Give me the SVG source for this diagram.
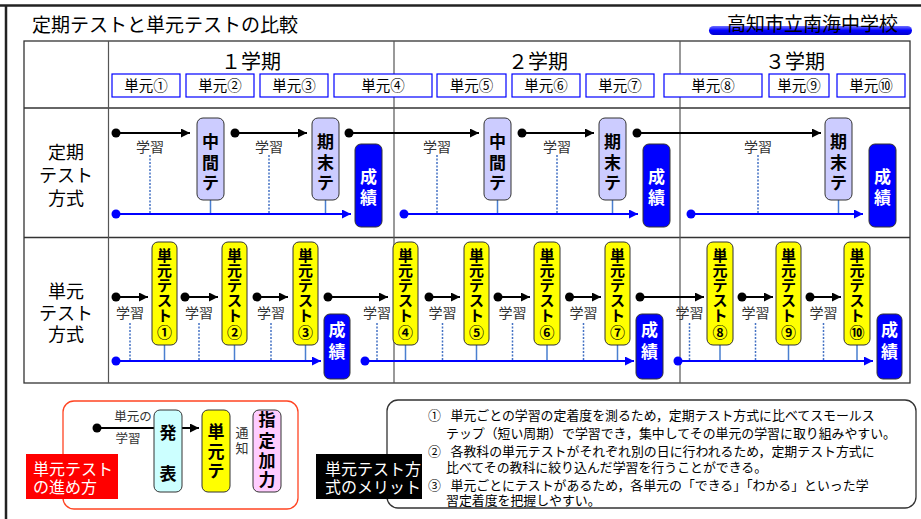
<svg xmlns="http://www.w3.org/2000/svg" width="921" height="519" viewBox="0 0 921 519">
<defs>
<marker id="ab" viewBox="0 0 10 10" refX="10" refY="5" markerWidth="5.5" markerHeight="4.5" orient="auto" markerUnits="strokeWidth"><path d="M0,0 L10,5 L0,10 z" fill="#000"/></marker>
<marker id="au" viewBox="0 0 10 10" refX="10" refY="5" markerWidth="5.5" markerHeight="4.5" orient="auto" markerUnits="strokeWidth"><path d="M0,0 L10,5 L0,10 z" fill="#0000ff"/></marker>
<linearGradient id="pill" x1="0" y1="0" x2="0" y2="1"><stop offset="0" stop-color="#7070ff"/><stop offset="0.5" stop-color="#0000ff"/><stop offset="1" stop-color="#0000cc"/></linearGradient>
<style>
text{font-family:"Noto Sans CJK JP","Noto Sans CJK SC",sans-serif}
.ttl{font-size:19px;fill:#000}
.hd{font-size:20px;text-anchor:middle;fill:#000}
.rl{font-size:18px;text-anchor:middle;fill:#000}
.ub{fill:#fff;stroke:#0000ff;stroke-width:1.2}
.ut{font-size:14.5px;text-anchor:middle;fill:#000}
.lav{fill:#ccccff;stroke:#333;stroke-width:1}
.yel{fill:#ffff00;stroke:#333;stroke-width:1}
.blu{fill:#0000ff;stroke:#333;stroke-width:1}
.vt{font-size:17px;font-weight:bold;text-anchor:middle;fill:#000}
.vy{font-size:15px;font-weight:bold;text-anchor:middle;fill:#000}
.wt{font-size:17px;font-weight:bold;text-anchor:middle;fill:#fff}
.lg{font-size:14px;text-anchor:middle;fill:#333}
.sm{font-size:12.5px;text-anchor:middle;fill:#333}
.wl{font-size:16px;fill:#fff}
.ba{stroke:#000;stroke-width:2;fill:none;marker-end:url(#ab)}
.bu{stroke:#0000ff;stroke-width:2;fill:none;marker-end:url(#au)}
.dt{stroke:#4472c4;stroke-width:1.5;stroke-dasharray:2 1.5;fill:none}
.cn{stroke:#4a7fd0;stroke-width:1.5;fill:none}
.tl{stroke:#333;stroke-width:1.3;fill:none}
.tv{stroke:#555;stroke-width:1.2;fill:none}
.mt{font-size:12.9px;fill:#000}
</style>
</defs>

<!-- outer frame -->
<g id="frame">
<line x1="0" y1="5.5" x2="921" y2="5.5" stroke="#222" stroke-width="2.5"/>
<line x1="6" y1="5" x2="6" y2="519" stroke="#222" stroke-width="2.5"/>
</g>

<g id="title"><text class="ttl" x="32" y="31.5">定期テストと単元テストの比較</text></g>
<g id="school">
<rect x="709" y="26" width="203" height="9" rx="4.5" fill="url(#pill)"/>
<text class="ttl" x="727" y="31">高知市立南海中学校</text>
</g>

<!-- table -->
<g id="table">
<rect x="24" y="41" width="886" height="342" fill="none" stroke="#333" stroke-width="1.3"/>
<line class="tl" x1="24" y1="108" x2="910" y2="108"/>
<line class="tl" x1="24" y1="237.5" x2="910" y2="237.5"/>
<line class="tv" x1="108.5" y1="41" x2="108.5" y2="383"/>
<line class="tv" x1="394" y1="41" x2="394" y2="383"/>
<line class="tv" x1="680" y1="41" x2="680" y2="383"/>
<text class="hd" x="251" y="69">１学期</text>
<text class="hd" x="538" y="69">２学期</text>
<text class="hd" x="795" y="69">３学期</text>
<text class="rl" x="66" y="158.5">定期</text>
<text class="rl" x="66" y="181.5">テスト</text>
<text class="rl" x="66" y="204.5">方式</text>
<text class="rl" x="66" y="298">単元</text>
<text class="rl" x="66" y="319.5">テスト</text>
<text class="rl" x="66" y="341">方式</text>
</g>

<g id="units">
<rect class="ub" x="112" y="74" width="68" height="23"/><text class="ut" x="146" y="90.5">単元①</text>
<rect class="ub" x="186" y="74" width="68" height="23"/><text class="ut" x="220" y="90.5">単元②</text>
<rect class="ub" x="260" y="74" width="68" height="23"/><text class="ut" x="294" y="90.5">単元③</text>
<rect class="ub" x="334" y="74" width="98" height="23"/><text class="ut" x="383" y="90.5">単元④</text>
<rect class="ub" x="437" y="74" width="69" height="23"/><text class="ut" x="471.5" y="90.5">単元⑤</text>
<rect class="ub" x="512" y="74" width="68" height="23"/><text class="ut" x="546" y="90.5">単元⑥</text>
<rect class="ub" x="586" y="74" width="68" height="23"/><text class="ut" x="620" y="90.5">単元⑦</text>
<rect class="ub" x="664" y="74" width="98" height="23"/><text class="ut" x="713" y="90.5">単元⑧</text>
<rect class="ub" x="769" y="74" width="60" height="23"/><text class="ut" x="799" y="90.5">単元⑨</text>
<rect class="ub" x="837" y="74" width="68" height="23"/><text class="ut" x="871" y="90.5">単元⑩</text>
</g>

<!-- connectors -->
<g id="connectors">
<path class="dt" d="M150,155V213 M269,155V213 M437,155V213 M557,155V213 M758,155V213"/>
<path class="cn" d="M210.5,200V214 M325.5,200V214 M497.5,200V214 M612.5,200V214 M838.5,200V214"/>
<line class="ba" x1="116" y1="133" x2="190" y2="133"/>
<line class="ba" x1="235" y1="133" x2="307" y2="133"/>
<line class="ba" x1="349" y1="133" x2="479" y2="133"/>
<line class="ba" x1="522" y1="133" x2="594" y2="133"/>
<line class="ba" x1="637" y1="133" x2="821" y2="133"/>
<g fill="#000"><circle cx="116" cy="133" r="4.5"/><circle cx="235" cy="133" r="4.5"/><circle cx="349" cy="133" r="4.5"/><circle cx="522" cy="133" r="4.5"/><circle cx="637" cy="133" r="4.5"/></g>
<line class="bu" x1="116" y1="214" x2="351" y2="214"/>
<line class="bu" x1="404" y1="214" x2="638" y2="214"/>
<line class="bu" x1="691" y1="214" x2="863" y2="214"/>
<g fill="#0000ff"><circle cx="116" cy="214" r="4.5"/><circle cx="404" cy="214" r="4.5"/><circle cx="691" cy="214" r="4.5"/></g>
<text class="lg" x="150" y="152">学習</text>
<text class="lg" x="269" y="152">学習</text>
<text class="lg" x="437" y="152">学習</text>
<text class="lg" x="557" y="152">学習</text>
<text class="lg" x="758" y="152">学習</text>

<path class="dt" d="M130,323V360 M199,323V360 M271,323V360 M377,323V360 M442.5,323V360 M512.5,323V360 M583.5,323V360 M689.5,323V360 M755.5,323V360 M823.5,323V360"/>
<path class="cn" d="M164.5,345V361 M234.5,345V361 M305.5,345V361 M405.5,345V361 M476.5,345V361 M547,345V361 M617.5,345V361 M720,345V361 M788.5,345V361 M857,345V361"/>
<line class="ba" x1="116" y1="297" x2="148" y2="297"/>
<line class="ba" x1="185" y1="297" x2="218" y2="297"/>
<line class="ba" x1="257" y1="297" x2="288" y2="297"/>
<line class="ba" x1="328" y1="297" x2="388" y2="297"/>
<line class="ba" x1="429" y1="297" x2="460" y2="297"/>
<line class="ba" x1="498" y1="297" x2="530" y2="297"/>
<line class="ba" x1="569.5" y1="297" x2="601" y2="297"/>
<line class="ba" x1="640" y1="297" x2="704" y2="297"/>
<line class="ba" x1="742" y1="297" x2="773" y2="297"/>
<line class="ba" x1="810" y1="297" x2="841" y2="297"/>
<g fill="#000"><circle cx="116" cy="297" r="4.5"/><circle cx="185" cy="297" r="4.5"/><circle cx="257" cy="297" r="4.5"/><circle cx="328" cy="297" r="4.5"/><circle cx="429" cy="297" r="4.5"/><circle cx="498" cy="297" r="4.5"/><circle cx="569.5" cy="297" r="4.5"/><circle cx="640" cy="297" r="4.5"/><circle cx="742" cy="297" r="4.5"/><circle cx="810" cy="297" r="4.5"/></g>
<line class="bu" x1="116" y1="361" x2="321" y2="361"/>
<line class="bu" x1="365" y1="361" x2="634" y2="361"/>
<line class="bu" x1="678" y1="361" x2="873" y2="361"/>
<g fill="#0000ff"><circle cx="116" cy="361" r="4.5"/><circle cx="365" cy="361" r="4.5"/><circle cx="678" cy="361" r="4.5"/></g>
<text class="lg" x="130" y="318">学習</text><text class="lg" x="199" y="318">学習</text><text class="lg" x="271" y="318">学習</text><text class="lg" x="377" y="318">学習</text><text class="lg" x="442.5" y="318">学習</text><text class="lg" x="512.5" y="318">学習</text><text class="lg" x="583.5" y="318">学習</text><text class="lg" x="689.5" y="318">学習</text><text class="lg" x="755.5" y="318">学習</text><text class="lg" x="823.5" y="318">学習</text>

<line class="ba" x1="97" y1="428" x2="199" y2="428"/>
<circle cx="97" cy="428" r="4.5" fill="#000"/>
<text class="sm" x="133" y="420.5">単元の</text>
<text class="sm" x="128" y="442.5">学習</text>
</g>

<!-- row 2 nodes -->
<g id="chukan1"><rect class="lav" x="197" y="118" width="27" height="82" rx="6"/><text class="vt" x="210.5" y="147.5">中<tspan x="210.5" dy="21">間</tspan><tspan x="210.5" dy="20">テ</tspan></text></g>
<g id="kimatsu1"><rect class="lav" x="312" y="118" width="27" height="82" rx="6"/><text class="vt" x="325.5" y="147.5">期<tspan x="325.5" dy="21">末</tspan><tspan x="325.5" dy="20">テ</tspan></text></g>
<g id="seiseki1"><rect class="blu" x="355" y="144" width="27" height="83" rx="6"/><text class="wt" x="368.5" y="183">成<tspan x="368.5" dy="21">績</tspan></text></g>
<g id="chukan2"><rect class="lav" x="484" y="118" width="27" height="82" rx="6"/><text class="vt" x="497.5" y="147.5">中<tspan x="497.5" dy="21">間</tspan><tspan x="497.5" dy="20">テ</tspan></text></g>
<g id="kimatsu2"><rect class="lav" x="599" y="118" width="27" height="82" rx="6"/><text class="vt" x="612.5" y="147.5">期<tspan x="612.5" dy="21">末</tspan><tspan x="612.5" dy="20">テ</tspan></text></g>
<g id="seiseki2"><rect class="blu" x="643" y="144" width="27" height="83" rx="6"/><text class="wt" x="656.5" y="183">成<tspan x="656.5" dy="21">績</tspan></text></g>
<g id="kimatsu3"><rect class="lav" x="825" y="118" width="27" height="82" rx="6"/><text class="vt" x="838.5" y="147.5">期<tspan x="838.5" dy="21">末</tspan><tspan x="838.5" dy="20">テ</tspan></text></g>
<g id="seiseki3"><rect class="blu" x="869" y="144" width="27" height="83" rx="6"/><text class="wt" x="882.5" y="183">成<tspan x="882.5" dy="21">績</tspan></text></g>

<!-- row 3 nodes -->
<g id="ut1"><rect class="yel" x="152" y="242" width="25" height="103" rx="6"/><text class="vy" x="164.5" y="260.5">単<tspan x="164.5" dy="15.2">元</tspan><tspan x="164.5" dy="15.2">テ</tspan><tspan x="164.5" dy="15.2">ス</tspan><tspan x="164.5" dy="15.2">ト</tspan><tspan x="164.5" dy="16.5">①</tspan></text></g>
<g id="ut2"><rect class="yel" x="222" y="242" width="25" height="103" rx="6"/><text class="vy" x="234.5" y="260.5">単<tspan x="234.5" dy="15.2">元</tspan><tspan x="234.5" dy="15.2">テ</tspan><tspan x="234.5" dy="15.2">ス</tspan><tspan x="234.5" dy="15.2">ト</tspan><tspan x="234.5" dy="16.5">②</tspan></text></g>
<g id="ut3"><rect class="yel" x="293" y="242" width="25" height="103" rx="6"/><text class="vy" x="305.5" y="260.5">単<tspan x="305.5" dy="15.2">元</tspan><tspan x="305.5" dy="15.2">テ</tspan><tspan x="305.5" dy="15.2">ス</tspan><tspan x="305.5" dy="15.2">ト</tspan><tspan x="305.5" dy="16.5">③</tspan></text></g>
<g id="sr1"><rect class="blu" x="324" y="314" width="26" height="65" rx="6"/><text class="wt" x="337" y="336">成<tspan x="337" dy="22">績</tspan></text></g>
<g id="ut4"><rect class="yel" x="393" y="242" width="25" height="103" rx="6"/><text class="vy" x="405.5" y="260.5">単<tspan x="405.5" dy="15.2">元</tspan><tspan x="405.5" dy="15.2">テ</tspan><tspan x="405.5" dy="15.2">ス</tspan><tspan x="405.5" dy="15.2">ト</tspan><tspan x="405.5" dy="16.5">④</tspan></text></g>
<g id="ut5"><rect class="yel" x="464" y="242" width="25" height="103" rx="6"/><text class="vy" x="476.5" y="260.5">単<tspan x="476.5" dy="15.2">元</tspan><tspan x="476.5" dy="15.2">テ</tspan><tspan x="476.5" dy="15.2">ス</tspan><tspan x="476.5" dy="15.2">ト</tspan><tspan x="476.5" dy="16.5">⑤</tspan></text></g>
<g id="ut6"><rect class="yel" x="534" y="242" width="26" height="103" rx="6"/><text class="vy" x="547" y="260.5">単<tspan x="547" dy="15.2">元</tspan><tspan x="547" dy="15.2">テ</tspan><tspan x="547" dy="15.2">ス</tspan><tspan x="547" dy="15.2">ト</tspan><tspan x="547" dy="16.5">⑥</tspan></text></g>
<g id="ut7"><rect class="yel" x="605" y="242" width="25" height="103" rx="6"/><text class="vy" x="617.5" y="260.5">単<tspan x="617.5" dy="15.2">元</tspan><tspan x="617.5" dy="15.2">テ</tspan><tspan x="617.5" dy="15.2">ス</tspan><tspan x="617.5" dy="15.2">ト</tspan><tspan x="617.5" dy="16.5">⑦</tspan></text></g>
<g id="sr2"><rect class="blu" x="636" y="314" width="27" height="65" rx="6"/><text class="wt" x="649.5" y="336">成<tspan x="649.5" dy="22">績</tspan></text></g>
<g id="ut8"><rect class="yel" x="707" y="242" width="26" height="103" rx="6"/><text class="vy" x="720" y="260.5">単<tspan x="720" dy="15.2">元</tspan><tspan x="720" dy="15.2">テ</tspan><tspan x="720" dy="15.2">ス</tspan><tspan x="720" dy="15.2">ト</tspan><tspan x="720" dy="16.5">⑧</tspan></text></g>
<g id="ut9"><rect class="yel" x="776" y="242" width="25" height="103" rx="6"/><text class="vy" x="788.5" y="260.5">単<tspan x="788.5" dy="15.2">元</tspan><tspan x="788.5" dy="15.2">テ</tspan><tspan x="788.5" dy="15.2">ス</tspan><tspan x="788.5" dy="15.2">ト</tspan><tspan x="788.5" dy="16.5">⑨</tspan></text></g>
<g id="ut10"><rect class="yel" x="844" y="242" width="26" height="103" rx="6"/><text class="vy" x="857" y="260.5">単<tspan x="857" dy="15.2">元</tspan><tspan x="857" dy="15.2">テ</tspan><tspan x="857" dy="15.2">ス</tspan><tspan x="857" dy="15.2">ト</tspan><tspan x="857" dy="16.5">⑩</tspan></text></g>
<g id="sr3"><rect class="blu" x="877" y="314" width="25" height="65" rx="6"/><text class="wt" x="889.5" y="336">成<tspan x="889.5" dy="22">績</tspan></text></g>

<!-- bottom left panel -->
<g id="process">
<rect x="63" y="401" width="235" height="108" rx="11" fill="none" stroke="#ff4422" stroke-width="1.3"/>
</g>
<g id="happyo"><rect x="154" y="410" width="28" height="82" rx="6" fill="#ccffff" stroke="#333" stroke-width="1"/><text class="vt" x="168" y="439">発<tspan x="168" dy="41">表</tspan></text></g>
<g id="tanten"><rect x="202" y="410" width="28" height="82" rx="6" fill="#ffff00" stroke="#333" stroke-width="1"/><text class="vt" x="216" y="438">単<tspan x="216" dy="20">元</tspan><tspan x="216" dy="19">テ</tspan></text></g>
<g id="tsuchi"><text x="242" y="437" font-size="13" text-anchor="middle" style="fill:#333">通<tspan x="242" dy="16">知</tspan></text></g>
<g id="shitei"><rect x="253" y="410" width="28" height="82" rx="6" fill="#ffccff" stroke="#333" stroke-width="1"/><text class="vt" x="267" y="426">指<tspan x="267" dy="21">定</tspan><tspan x="267" dy="20">加</tspan><tspan x="267" dy="19">力</tspan></text></g>
<g id="label-red"><rect x="26" y="454" width="92" height="45" fill="#ff0000"/><text class="wl" x="33" y="475">単元テスト</text><text class="wl" x="33" y="493">の進め方</text></g>

<!-- merits -->
<g id="merits">
<rect x="387" y="400" width="529" height="108" rx="11" fill="#fff" stroke="#333" stroke-width="1.3"/>
<text class="mt" x="428" y="420">①<tspan x="450.5">単元ごとの学習の定着度を測るため，定期テスト方式に比べてスモールス</tspan></text>
<text class="mt" x="446" y="438">テップ（短い周期）で学習でき，集中してその単元の学習に取り組みやすい。</text>
<text class="mt" x="428" y="456">②<tspan x="450.5">各教科の単元テストがそれぞれ別の日に行われるため，定期テスト方式に</tspan></text>
<text class="mt" x="446" y="472">比べてその教科に絞り込んだ学習を行うことができる。</text>
<text class="mt" x="428" y="489.5">③<tspan x="450.5">単元ごとにテストがあるため，各単元の「できる」「わかる」といった学</tspan></text>
<text class="mt" x="446" y="504.5">習定着度を把握しやすい。</text>
</g>
<g id="label-black"><rect x="316" y="454" width="106" height="45" fill="#000"/><text class="wl" x="325" y="475">単元テスト方</text><text class="wl" x="325" y="493">式のメリット</text></g>
</svg>
